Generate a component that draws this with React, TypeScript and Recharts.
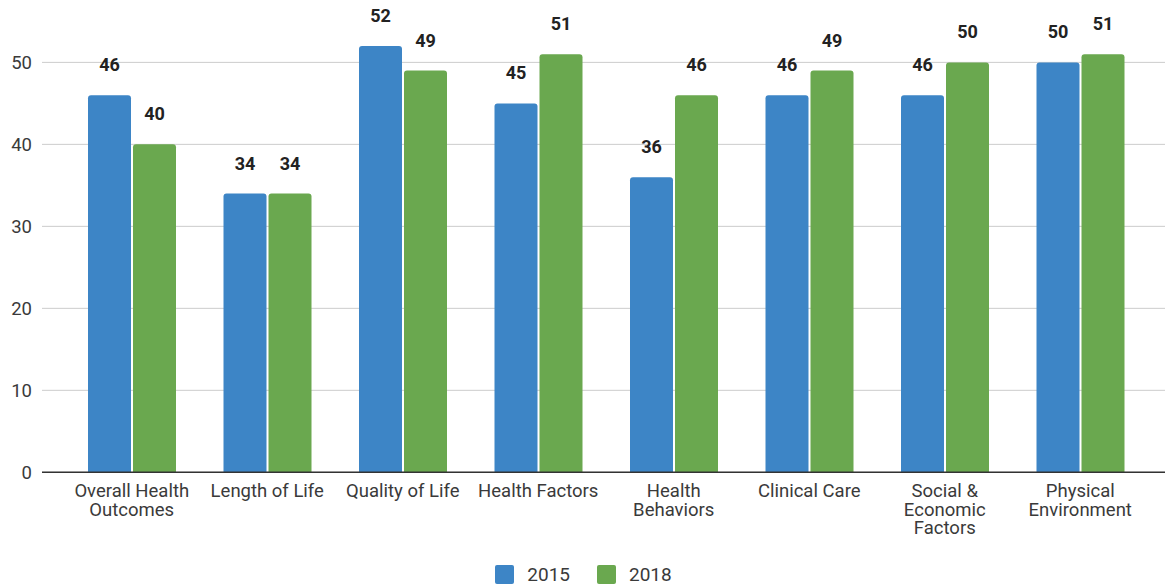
import React from "react";
import { BarChart, Bar, XAxis, YAxis, CartesianGrid, Legend, LabelList } from "recharts";

const categories = [
  "Overall Health\nOutcomes",
  "Length of Life",
  "Quality of Life",
  "Health Factors",
  "Health\nBehaviors",
  "Clinical Care",
  "Social &\nEconomic\nFactors",
  "Physical\nEnvironment",
];
const values2015 = [46, 34, 52, 45, 36, 46, 46, 50];
const values2018 = [40, 34, 49, 51, 46, 49, 50, 51];
const yTicks = [0, 10, 20, 30, 40, 50];
const seriesNames = ["2015", "2018"];
const colors = ["#3d85c6", "#6aa84f"];

const data = categories.map((c, i) => ({
  name: c,
  v2015: values2015[i],
  v2018: values2018[i],
}));

const FONT = "Roboto, 'Noto Sans', sans-serif";

const XTick = (props: any) => {
  const { x, y, payload } = props;
  const lines = String(payload.value).split("\n");
  return (
    <g>
      {lines.map((l, i) => (
        <text key={i} x={x} y={y + 25 + i * 18.5} textAnchor="middle" fill="#3a3a3a" fontSize={18.5} fontFamily={FONT}>
          {l}
        </text>
      ))}
    </g>
  );
};

const LegendContent = () => (
  <div
    style={{
      height: 26,
      display: "flex",
      justifyContent: "center",
      alignItems: "center",
      fontFamily: FONT,
      fontSize: 19,
      color: "#3a3a3a",
      paddingLeft: 2,
    }}
  >
    {seriesNames.map((n, i) => (
      <div key={n} style={{ display: "flex", alignItems: "center", marginLeft: i === 0 ? 0 : 27 }}>
        <div style={{ width: 19, height: 19, background: colors[i], borderRadius: 2, marginRight: 13 }} />
        <span>{n}</span>
      </div>
    ))}
  </div>
);

export default function App() {
  return (
    <div style={{ position: "absolute", left: 0, top: 0, width: 1165, height: 587, background: "#fff", overflow: "hidden" }}>
      <BarChart
        width={1165}
        height={587}
        data={data}
        margin={{ top: 5, right: 0, bottom: 0, left: 0 }}
        barSize={43}
        barGap={2}
        accessibilityLayer={false}
      >
        <CartesianGrid vertical={false} horizontalValues={yTicks} stroke="#cccccc" />
        <XAxis
          dataKey="name"
          height={88.7}
          tickLine={false}
          tickSize={0}
          tickMargin={0}
          axisLine={{ stroke: "#333", strokeWidth: 1.5 }}
          interval={0}
          padding={{ left: 22, right: 17 }}
          tick={<XTick />}
        />
        <YAxis
          width={42}
          domain={[0, 57]}
          ticks={yTicks}
          axisLine={false}
          tickLine={false}
          tickMargin={4}
          tick={{ fill: "#3a3a3a", fontSize: 18.5, fontFamily: FONT }}
        />
        <Legend verticalAlign="bottom" content={<LegendContent />} />
        <Bar dataKey="v2015" name={seriesNames[0]} fill={colors[0]} radius={[3, 3, 0, 0]} isAnimationActive={false}>
          <LabelList dataKey="v2015" position="top" offset={24} fill="#222" fontSize={18} fontWeight="bold" fontFamily={FONT} />
        </Bar>
        <Bar dataKey="v2018" name={seriesNames[1]} fill={colors[1]} radius={[3, 3, 0, 0]} isAnimationActive={false}>
          <LabelList dataKey="v2018" position="top" offset={24} fill="#222" fontSize={18} fontWeight="bold" fontFamily={FONT} />
        </Bar>
      </BarChart>
    </div>
  );
}
